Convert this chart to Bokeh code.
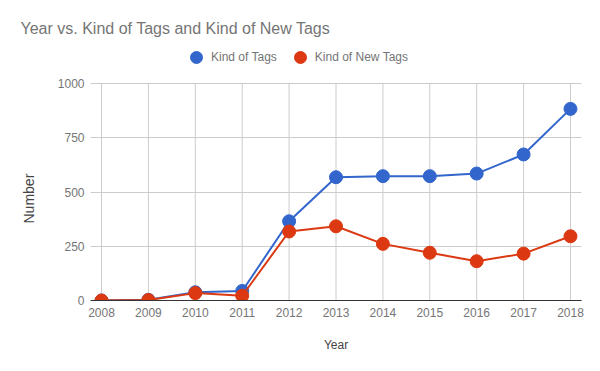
from bokeh.plotting import figure
from bokeh.models import Legend, LegendItem, FixedTicker, Range1d, Title
from bokeh.embed import file_html
from bokeh.resources import INLINE

years = [2008, 2009, 2010, 2011, 2012, 2013, 2014, 2015, 2016, 2017, 2018]
kind_of_tags = [0, 3, 38, 44, 365, 568, 573, 573, 585, 673, 883]
kind_of_new_tags = [0, 2, 34, 22, 318, 342, 261, 220, 181, 216, 296]
y_ticks = [0, 250, 500, 750, 1000]
title_text = "Year vs. Kind of Tags and Kind of New Tags"
x_title = "Year"
y_title = "Number"
series_names = ["Kind of Tags", "Kind of New Tags"]
colors = ["#3366CC", "#DC3912"]

FONT = "Liberation Sans"
Y_MAX = y_ticks[-1]
# frame spans extra room above the value axis so the legend is not clipped
Y_TOP = Y_MAX * 260 / 217

p = figure(width=600, height=371, output_backend="svg", toolbar_location=None,
           x_range=Range1d(2007.765, 2018.235), y_range=Range1d(0, Y_TOP),
           min_border_left=90, min_border_right=19, min_border_top=40, min_border_bottom=71)
p.outline_line_color = None
p.background_fill_color = "white"
p.border_fill_color = "white"

# vertical grid lines limited to the value range
p.segment(x0=years, y0=[0] * len(years), x1=years, y1=[Y_MAX] * len(years),
          line_color="#cccccc", line_width=1, level="underlay")
p.xgrid.visible = False
p.ygrid.ticker = FixedTicker(ticks=y_ticks)
p.ygrid.grid_line_color = "#cccccc"

renderers = []
for vals, c in zip([kind_of_tags, kind_of_new_tags], colors):
    p.line(years, vals, line_color=c, line_width=2)
    r = p.scatter(years, vals, size=13, fill_color=c, line_color=c, marker="circle")
    renderers.append(r)

p.xaxis.ticker = FixedTicker(ticks=years)
p.yaxis.ticker = FixedTicker(ticks=y_ticks)

for ax in (p.xaxis, p.yaxis):
    ax.major_tick_line_color = None
    ax.minor_tick_line_color = None
    ax.major_tick_out = 0
    ax.major_tick_in = 0
    ax.minor_tick_out = 0
    ax.major_label_text_font = FONT
    ax.major_label_text_font_size = "12px"
    ax.major_label_text_color = "#757575"
    ax.axis_label_text_font = FONT
    ax.axis_label_text_font_style = "normal"
    ax.axis_label_text_color = "#444444"

p.xaxis.major_label_standoff = 7
p.yaxis.major_label_standoff = 6
p.xaxis.axis_label_text_font_size = "12px"
p.xaxis.axis_line_color = "#333333"
p.xaxis.axis_line_width = 1
p.yaxis.axis_line_color = None
p.xaxis.axis_label = x_title
p.xaxis.axis_label_standoff = 18

ytitle = Title(text=y_title, align="left", offset=77, standoff=36,
               text_font=FONT, text_font_size="14px", text_font_style="normal",
               text_color="#444444")
p.add_layout(ytitle, "left")

p.title.text = title_text
p.title.text_font = FONT
p.title.text_font_size = "16px"
p.title.text_font_style = "normal"
p.title.text_color = "#757575"
p.title.align = "left"
p.title.offset = -70
p.title.standoff = 8

legend = Legend(items=[LegendItem(label=n, renderers=[r]) for n, r in zip(series_names, renderers)],
                orientation="horizontal", location=(91, 228),
                glyph_width=30, glyph_height=30, label_standoff=0, spacing=8,
                padding=0, margin=0, border_line_color=None, background_fill_alpha=0,
                label_text_font=FONT, label_text_font_size="12px", label_text_color="#757575",
                label_height=12)
p.add_layout(legend, "center")

open("out.html", "w").write(file_html(p, INLINE))
